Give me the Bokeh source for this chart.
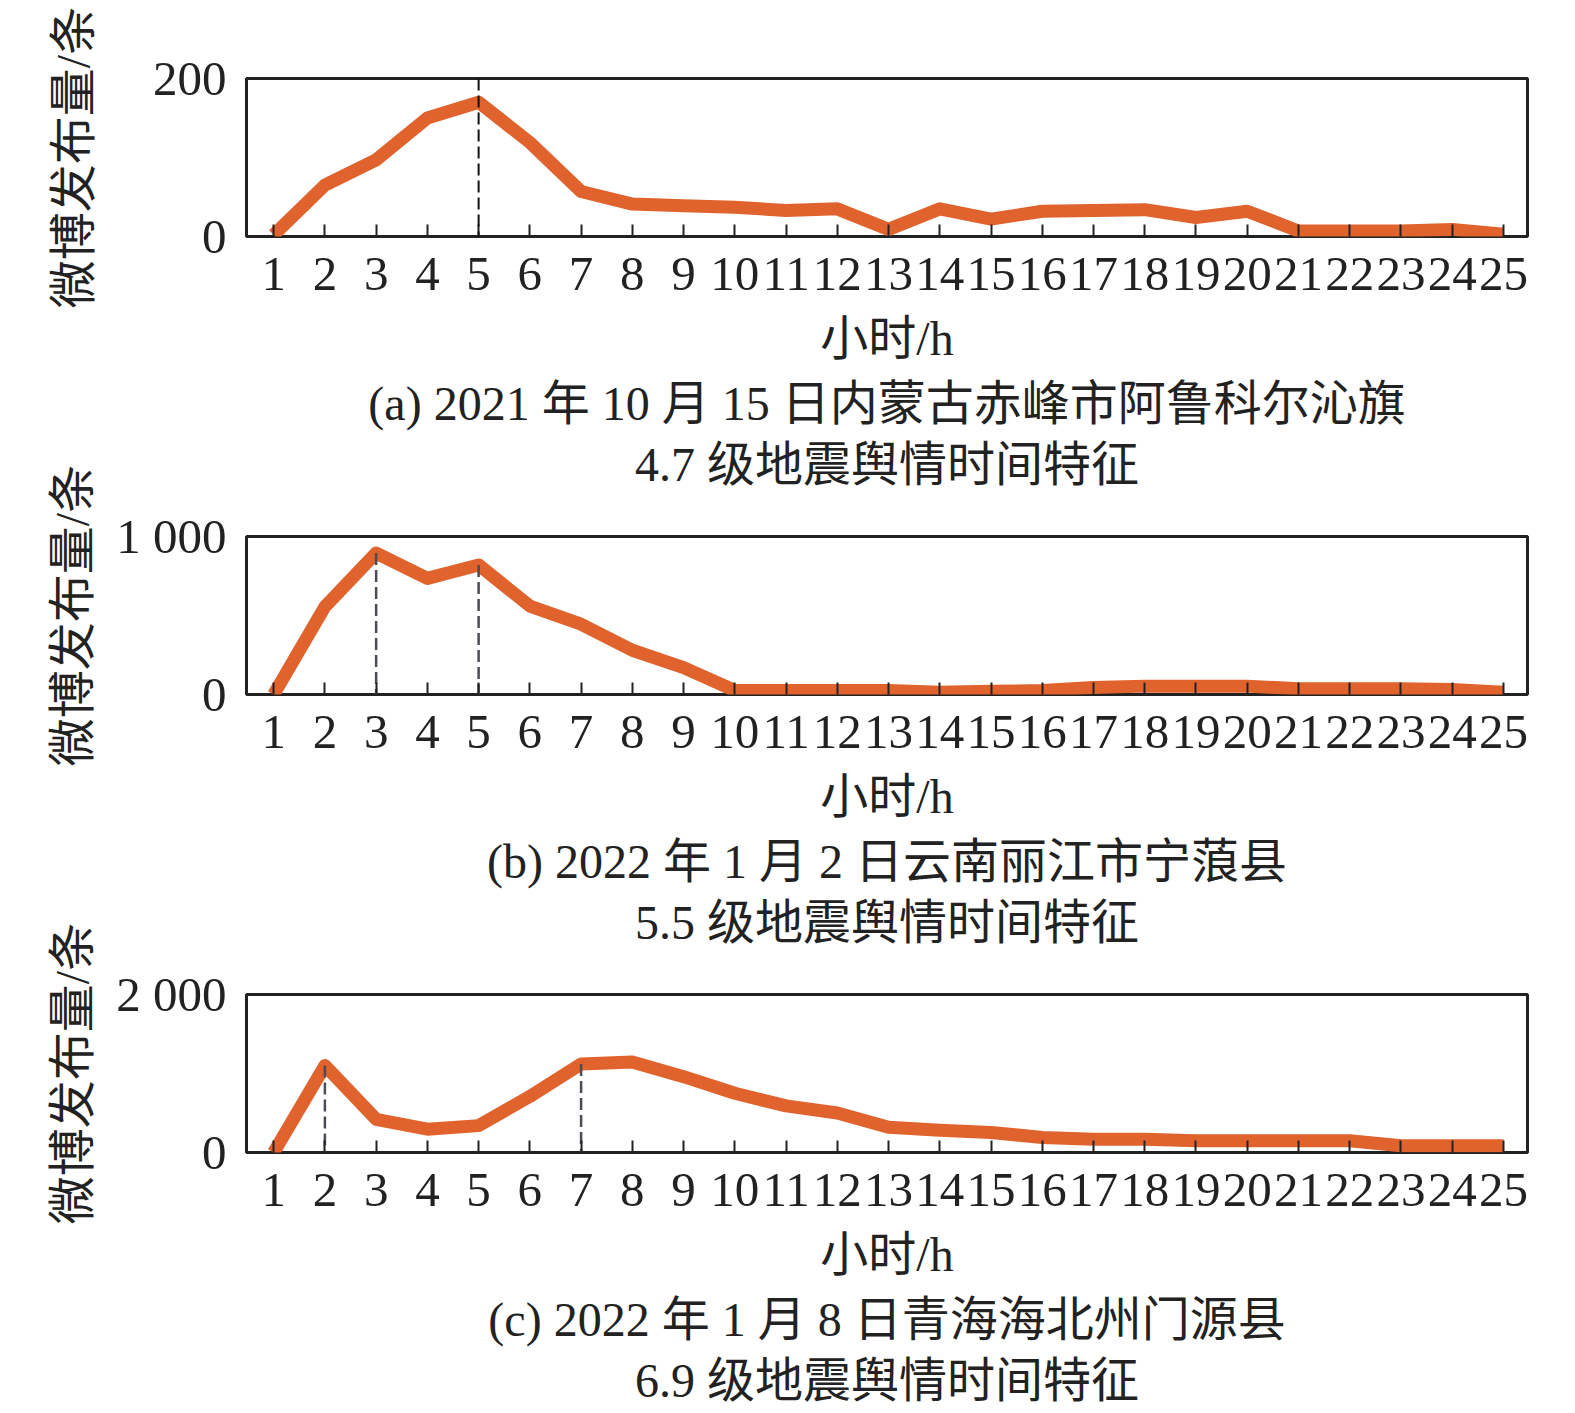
from bokeh.plotting import figure
from bokeh.models import Range1d, FixedTicker, Title, Span
from bokeh.layouts import column
from bokeh.embed import file_html
from bokeh.resources import INLINE

# ---------------- data ----------------
hours = list(range(1, 26))
vals_a = [2, 65, 97, 150, 170, 119, 57, 41, 39, 37, 33, 35, 9, 35, 22, 32, 33, 34, 24, 32, 7, 7, 7, 9, 3]
vals_b = [0, 555, 895, 735, 820, 560, 445, 280, 170, 25, 25, 25, 25, 15, 20, 25, 45, 53, 53, 53, 36, 36, 36, 32, 15]
vals_c = [0, 1100, 420, 295, 340, 710, 1120, 1145, 960, 750, 590, 500, 320, 283, 254, 190, 169, 169, 148, 148, 148, 148, 85, 85, 85]
y_max = [200, 1000, 2000]
y_tick_labels = [{0: "0", 200: "200"}, {0: "0", 1000: "1 000"}, {0: "0", 2000: "2 000"}]
peak_hours = [[5], [3, 5], [2, 7]]
captions = [
    ("(a) 2021 年 10 月 15 日内蒙古赤峰市阿鲁科尔沁旗", "4.7 级地震舆情时间特征"),
    ("(b) 2022 年 1 月 2 日云南丽江市宁蒗县", "5.5 级地震舆情时间特征"),
    ("(c) 2022 年 1 月 8 日青海海北州门源县", "6.9 级地震舆情时间特征"),
]
y_label = "微博发布量/条"
x_label = "小时/h"

FONT = "'Liberation Serif', 'Noto Sans CJK SC'"
FS_NUM = "49px"
FS_TXT = "48px"
LINE_COLOR = "#E0622C"
INK = "#222222"

H = 492
OVERLAP = 34


def make_panel(vals, ymax, ylabels, peaks, cap, label_standoff, full_span):
    p = figure(width=1559, height=H, output_backend="svg", toolbar_location=None,
               x_range=Range1d(0.47, 25.47), y_range=Range1d(0, ymax),
               min_border_left=238, min_border_right=40, min_border_top=70,
               min_border_bottom=H - 70 - 158)
    p.border_fill_color = None
    p.background_fill_color = "white"
    p.outline_line_color = INK
    p.outline_line_width = 3
    p.grid.visible = False

    p.line(hours, vals, line_color=LINE_COLOR, line_width=13, line_join="round")
    if full_span:
        for h in peaks:
            p.add_layout(Span(location=h, dimension="height", line_color="#111111",
                              line_width=2, line_dash="12 5"))
    else:
        p.segment(x0=peaks, y0=[vals[h - 1] for h in peaks], x1=peaks, y1=[0] * len(peaks),
                  line_color="#4a4d55", line_width=2.5, line_dash="12 5")

    xa = p.xaxis[0]
    xa.ticker = FixedTicker(ticks=hours)
    xa.axis_line_color = None
    xa.major_tick_in = 12
    xa.major_tick_out = 0
    xa.major_tick_line_width = 2
    xa.major_tick_line_color = INK
    xa.minor_tick_line_color = None
    xa.major_label_text_font = FONT
    xa.major_label_text_font_size = FS_NUM
    xa.major_label_text_color = INK
    xa.major_label_standoff = 21
    xa.axis_label = x_label
    xa.axis_label_text_font = FONT
    xa.axis_label_text_font_size = FS_TXT
    xa.axis_label_text_font_style = "normal"
    xa.axis_label_text_color = INK
    xa.axis_label_standoff = 19

    ya = p.yaxis[0]
    ya.ticker = FixedTicker(ticks=[0, ymax])
    ya.major_label_overrides = ylabels
    ya.axis_line_color = None
    ya.major_tick_in = 0
    ya.major_tick_out = 0
    ya.minor_tick_line_color = None
    ya.major_label_text_font = FONT
    ya.major_label_text_font_size = FS_NUM
    ya.major_label_text_color = INK
    ya.major_label_standoff = 20
    ya.axis_label = y_label
    ya.axis_label_text_font = FONT
    ya.axis_label_text_font_size = FS_TXT
    ya.axis_label_text_font_style = "normal"
    ya.axis_label_text_color = INK
    ya.axis_label_standoff = label_standoff

    for i, line in enumerate(cap):
        t = Title(text=line, align="center", text_font=FONT, text_font_size=FS_TXT,
                  text_font_style="normal", text_color=INK, standoff=-4 if i else 15)
        p.add_layout(t, "below")
    return p


pa = make_panel(vals_a, y_max[0], y_tick_labels[0], peak_hours[0], captions[0], 50, True)
pb = make_panel(vals_b, y_max[1], y_tick_labels[1], peak_hours[1], captions[1], 14, False)
pc = make_panel(vals_c, y_max[2], y_tick_labels[2], peak_hours[2], captions[2], 14, False)
pa.margin = (8, 0, 0, 8)
pb.margin = (-OVERLAP, 0, 0, 8)
pc.margin = (-OVERLAP, 0, 0, 8)

layout = column(pa, pb, pc, spacing=0)
open("out.html", "w").write(file_html(layout, INLINE))
